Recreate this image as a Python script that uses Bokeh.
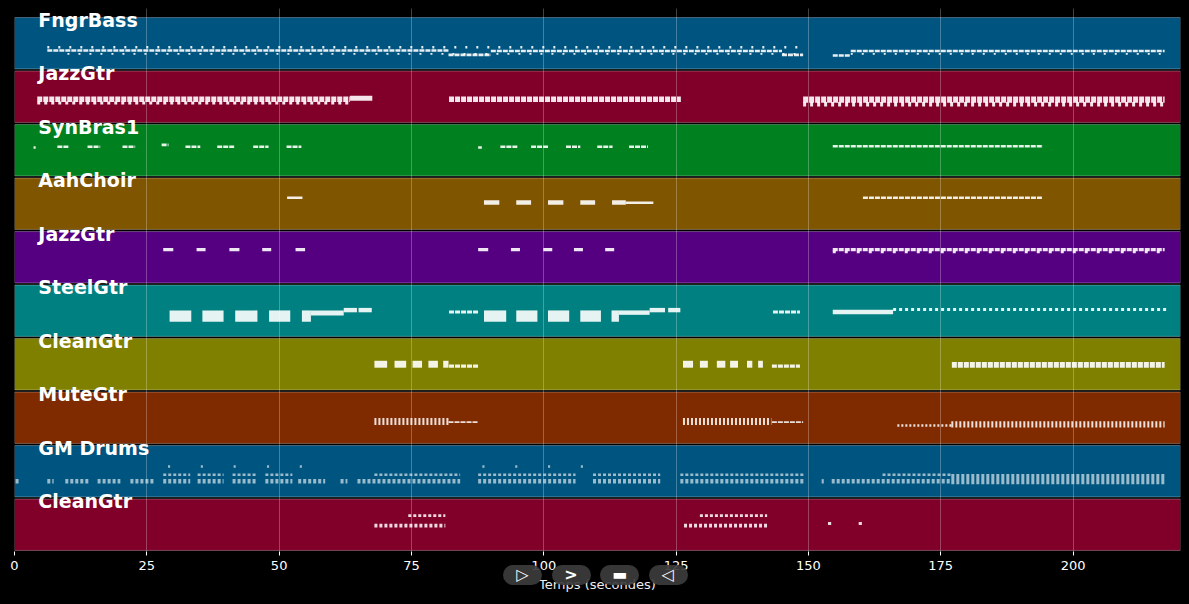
from bokeh.plotting import figure
from bokeh.layouts import column
from bokeh.models import Range1d, FixedTicker, ColumnDataSource, LabelSet, Div
from bokeh.core.properties import value
from bokeh.embed import file_html
from bokeh.resources import INLINE

# ---------------- data ----------------
track_names = ["FngrBass", "JazzGtr", "SynBras1", "AahChoir", "JazzGtr",
               "SteelGtr", "CleanGtr", "MuteGtr", "GM Drums", "CleanGtr"]
track_colors = ["#005580", "#80002a", "#00801f", "#805500", "#550080",
                "#008080", "#808000", "#802a00", "#005580", "#80002a"]
tick_values = [0, 25, 50, 75, 100, 125, 150, 175, 200]
time_end = 220.3
x_label = "Temps (secondes)"
button_symbols = ["\u25b7", ">", "\u25ac", "\u25c1"]

# each note group: (start s, end s, lowest pitch, highest pitch)
# runs = dense sequences of short notes, dots = sparse short notes, chords = solid blocks
fngrbass_runs = [(6.2, 59.5, 49, 53), (59.5, 82.0, 49, 53), (82.0, 90.0, 42, 46),
                 (90.0, 145.0, 48, 52), (145.0, 149.0, 42, 46), (154.6, 158.0, 41, 45),
                 (158.0, 217.3, 48, 52)]
fngrbass_dots = [(6.2, 149.0, 54, 58), (10.0, 149.0, 44, 47), (158.0, 217.3, 44, 47)]
fngrbass_chords = []

jazzgtr_runs = [(4.3, 63.4, 54, 63), (82.1, 125.9, 54, 63), (149.0, 217.3, 53, 63)]
jazzgtr_dots = [(4.3, 63.4, 50, 55), (149.0, 217.3, 47, 54)]
jazzgtr_chords = [(63.4, 67.6, 56, 64)]

synbras_runs = [(3.6, 4.0, 65, 69), (8.1, 10.2, 66, 70), (13.8, 16.2, 66, 70),
                (20.4, 22.8, 66, 70), (27.8, 29.1, 69, 73), (32.3, 35.1, 66, 70),
                (38.3, 41.5, 66, 70), (45.1, 48.0, 66, 70), (51.4, 54.2, 66, 70),
                (87.6, 88.3, 65, 69), (91.8, 95.0, 66, 70), (97.6, 100.8, 66, 70),
                (104.2, 106.9, 66, 70), (110.1, 113.0, 66, 70), (116.1, 119.7, 66, 70),
                (154.6, 194.3, 67, 71)]
synbras_dots = []
synbras_chords = []

aahchoir_runs = [(160.3, 194.3, 70, 74)]
aahchoir_dots = []
aahchoir_chords = [(51.5, 54.4, 70, 74), (88.7, 91.6, 61, 68), (94.8, 97.6, 61, 68),
                   (100.8, 103.7, 61, 68), (106.9, 109.7, 61, 68), (112.9, 115.5, 61, 68),
                   (115.5, 120.7, 62, 66)]

jazzgtr2_runs = [(154.6, 217.3, 72, 77)]
jazzgtr2_dots = [(154.6, 217.3, 69, 73)]
jazzgtr2_chords = [(28.1, 30.0, 72, 77), (34.4, 36.1, 72, 77), (40.6, 42.5, 72, 77),
                   (46.8, 48.5, 72, 77), (53.1, 54.9, 72, 77), (87.6, 89.5, 72, 77),
                   (93.8, 95.5, 72, 77), (99.9, 101.6, 72, 77), (105.7, 107.4, 72, 77),
                   (111.6, 113.3, 72, 77)]

steelgtr_runs = [(82.1, 87.6, 58, 63), (143.3, 148.4, 58, 63)]
steelgtr_dots = [(166.0, 217.7, 62, 67)]
steelgtr_chords = [(29.3, 33.4, 45, 63), (35.5, 39.5, 45, 63), (41.7, 45.9, 45, 63),
                   (48.1, 52.1, 45, 63), (54.3, 56.0, 45, 63), (56.0, 62.2, 55, 63),
                   (62.2, 64.7, 60, 67), (65.0, 67.5, 60, 67), (88.7, 92.9, 45, 63),
                   (94.8, 98.8, 45, 63), (100.8, 104.8, 45, 63), (106.9, 110.8, 45, 63),
                   (112.8, 114.2, 45, 63), (114.2, 120.0, 56, 63), (120.0, 122.9, 60, 67),
                   (123.5, 125.8, 60, 67), (154.6, 166.0, 57, 64)]

cleangtr_runs = [(82.1, 87.6, 57, 62), (143.1, 148.4, 57, 62), (177.1, 217.3, 57, 66)]
cleangtr_dots = []
cleangtr_chords = [(68.0, 70.4, 57, 68), (71.8, 74.0, 57, 68), (75.2, 77.0, 57, 68),
                   (78.2, 80.0, 57, 68), (81.0, 82.0, 57, 68), (126.3, 128.2, 57, 68),
                   (129.5, 131.0, 57, 68), (132.7, 134.3, 57, 68), (135.2, 136.7, 57, 68),
                   (138.4, 139.4, 57, 68), (140.5, 141.4, 57, 68)]

mutegtr_runs = [(82.0, 87.6, 54, 57), (143.1, 149.0, 54, 57)]
mutegtr_dots = [(68.0, 82.0, 51, 62), (126.3, 143.0, 51, 62), (166.8, 177.0, 48, 52),
                (177.0, 217.3, 47, 57)]
mutegtr_chords = []

drums_runs = []
drums_dots = [(0.2, 1.1, 43, 50), (6.2, 7.4, 43, 50), (9.6, 14.0, 43, 50),
              (15.7, 20.0, 43, 50), (21.9, 26.6, 43, 50), (28.1, 33.2, 43, 50),
              (34.6, 39.5, 43, 50), (41.2, 45.9, 43, 50), (47.4, 52.5, 43, 50),
              (53.6, 58.7, 43, 50), (61.6, 62.9, 43, 50), (64.8, 84.2, 43, 50),
              (87.6, 106.0, 43, 50), (109.3, 122.0, 43, 50), (125.8, 149.4, 43, 50),
              (152.5, 152.9, 43, 50), (154.4, 177.0, 43, 50), (177.0, 217.3, 42, 58),
              (28.1, 33.2, 55, 59), (34.6, 39.5, 55, 59), (41.2, 45.9, 55, 59),
              (47.4, 52.5, 55, 59), (68.0, 84.2, 55, 59), (87.6, 106.0, 55, 59),
              (109.3, 122.0, 55, 59), (125.8, 149.4, 55, 59), (164.0, 177.0, 55, 59)]
drums_chords = [(29.0, 29.4, 68, 72), (35.2, 35.6, 68, 72), (41.4, 41.8, 68, 72),
                (47.7, 48.1, 68, 72), (53.9, 54.3, 68, 72), (88.4, 88.8, 68, 72),
                (94.6, 95.0, 68, 72), (100.8, 101.2, 68, 72), (107.0, 107.4, 68, 72)]

cleangtr2_runs = []
cleangtr2_dots = [(68.0, 81.4, 58, 64), (126.5, 142.2, 58, 64),
                  (74.4, 81.4, 75, 79), (129.5, 142.2, 75, 79)]
cleangtr2_chords = [(153.7, 154.3, 62, 67), (159.5, 160.1, 62, 67)]

tracks = [
    (fngrbass_runs, fngrbass_dots, fngrbass_chords),
    (jazzgtr_runs, jazzgtr_dots, jazzgtr_chords),
    (synbras_runs, synbras_dots, synbras_chords),
    (aahchoir_runs, aahchoir_dots, aahchoir_chords),
    (jazzgtr2_runs, jazzgtr2_dots, jazzgtr2_chords),
    (steelgtr_runs, steelgtr_dots, steelgtr_chords),
    (cleangtr_runs, cleangtr_dots, cleangtr_chords),
    (mutegtr_runs, mutegtr_dots, mutegtr_chords),
    (drums_runs, drums_dots, drums_chords),
    (cleangtr2_runs, cleangtr2_dots, cleangtr2_chords),
]

# ---------------- styles ----------------
note_alpha = [0.9, 0.9, 0.9, 0.9, 0.9, 0.9, 0.9, 0.85, 0.6, 0.85]
dots_dash = ["2 9", "3 4", "3 3", "3 3", "3 9", "3 3", "3 3", "2 2", "3 2", "3 2"]
PITCH_LO, PITCH_SPAN = 20.0, 85.0
PX_PER_ROW = 53.6
n = len(track_names)

p = figure(width=1181, height=594, output_backend="svg", toolbar_location=None,
           x_range=Range1d(0, time_end), y_range=Range1d(0, 10.149),
           min_border_left=14, min_border_right=1, min_border_top=8, min_border_bottom=40,
           background_fill_color="black", border_fill_color="black",
           outline_line_color=None)

bases = [n - 1 - k for k in range(n)]
band_src = ColumnDataSource(dict(
    left=[0] * n, right=[time_end] * n,
    bottom=[b + 0.02 for b in bases], top=[b + 0.98 for b in bases],
    color=track_colors))
p.quad(left="left", right="right", bottom="bottom", top="top", source=band_src,
       fill_color="color", line_color="white", line_alpha=0.28, line_width=1)


def ymap(base, pitch):
    return base + (pitch - PITCH_LO) / PITCH_SPAN


for k, (runs, dots, chords) in enumerate(tracks):
    base = bases[k]
    a = note_alpha[k]
    for groups, dash in ((runs, "5 1"), (dots, dots_dash[k])):
        if not groups:
            continue
        src = ColumnDataSource(dict(
            x0=[g[0] for g in groups], x1=[g[1] for g in groups],
            y=[ymap(base, (g[2] + g[3]) / 2) for g in groups],
            w=[max(1.5, (g[3] - g[2]) / PITCH_SPAN * PX_PER_ROW) for g in groups]))
        p.segment(x0="x0", y0="y", x1="x1", y1="y", source=src, line_width="w",
                  line_color="white", line_alpha=a, line_dash=dash, line_cap="butt")
    if chords:
        src = ColumnDataSource(dict(
            left=[g[0] for g in chords], right=[g[1] for g in chords],
            bottom=[ymap(base, g[2]) for g in chords], top=[ymap(base, g[3]) for g in chords]))
        p.quad(left="left", right="right", bottom="bottom", top="top", source=src,
               fill_color="white", fill_alpha=a, line_color=None)

label_src = ColumnDataSource(dict(x=[4.5] * n, y=[b + 0.81 for b in bases], text=track_names))
p.add_layout(LabelSet(x="x", y="y", text="text", source=label_src,
                      text_color="white", text_font_size=value("19px"),
                      text_font=value("DejaVu Sans"), text_font_style="bold",
                      text_baseline="alphabetic", text_align="left"))

p.yaxis.visible = False
p.ygrid.visible = False
p.xgrid.ticker = FixedTicker(ticks=tick_values)
p.xgrid.grid_line_color = "white"
p.xgrid.grid_line_alpha = 0.26
p.xgrid.level = "guide"

ax = p.xaxis[0]
ax.ticker = FixedTicker(ticks=tick_values)
ax.axis_line_color = None
ax.major_tick_line_color = "white"
ax.major_tick_out = 4
ax.major_tick_in = 0
ax.minor_tick_line_color = None
ax.major_label_standoff = 5
ax.major_label_text_color = "white"
ax.major_label_text_font = "DejaVu Sans"
ax.major_label_text_font_size = "13px"
ax.axis_label = x_label
ax.axis_label_text_color = "#eeeeee"
ax.axis_label_text_font = "DejaVu Sans"
ax.axis_label_text_font_size = "13px"
ax.axis_label_text_font_style = "normal"
ax.axis_label_standoff = 4

btn_style = ("display:inline-block;width:39px;height:20px;line-height:20px;margin-right:9.5px;"
             "border-radius:10px;background:rgba(60,60,60,0.92);color:#ffffff;text-align:center;"
             "font-family:'DejaVu Sans';font-size:16px;font-weight:bold;vertical-align:top;")
buttons = Div(text="".join(f'<span style="{btn_style}">{s}</span>' for s in button_symbols),
              width=200, height=20,
              styles={"position": "absolute", "left": "503px", "top": "565px", "z-index": "10",
                      "margin": "0", "padding": "0", "overflow": "visible"})

layout = column(p, buttons, spacing=0)

html = file_html(layout, INLINE)
html = html.replace("</head>", "<style>html,body{background:#000000;}</style></head>")
open("out.html", "w").write(html)
